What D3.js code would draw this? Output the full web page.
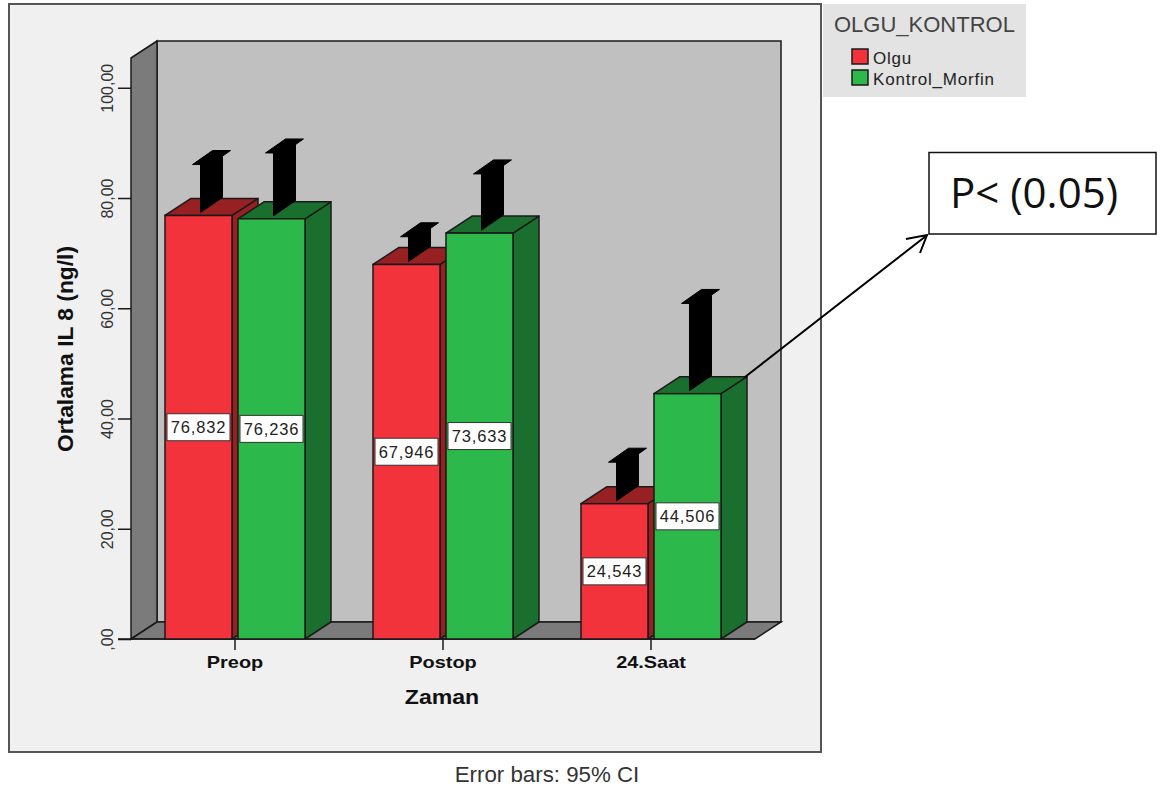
<!DOCTYPE html>
<html>
<head>
<meta charset="utf-8">
<script src="https://cdn.jsdelivr.net/npm/d3@7"></script>
<style>
  html, body { margin: 0; padding: 0; background: #fff; }
  svg { display: block; }
  text { font-family: "Liberation Sans", Arial, sans-serif; }
</style>
</head>
<body>
<div id="chart"></div>
<script>
const categories = ["Preop", "Postop", "24.Saat"];
const seriesNames = ["Olgu", "Kontrol_Morfin"];
const olguMeans = [76.832, 67.946, 24.543];
const kontrolMeans = [76.236, 73.633, 44.506];
// upper end of the 95% CI, the lower part is hidden inside the bars
const olguUpper = [85.8, 72.7, 31.8];
const kontrolUpper = [87.9, 84.1, 60.6];
const yTicks = [0, 20, 40, 60, 80, 100];

const colors = {
  Olgu: { front: "#f2333b", top: "#962022", side: "#962022" },
  Kontrol_Morfin: { front: "#2db84b", top: "#1b6f2e", side: "#1b6f2e" }
};
const line = "#1a1a1a";
const wall = "#c0c0c0";
const sideWall = "#7b7b7b";

const depth = { x: 26, y: -17 };

const svg = d3.select("#chart")
  .append("svg")
  .attr("width", 1163)
  .attr("height", 792);

// Chart panel
svg.append("rect")
  .attr("x", 9).attr("y", 4)
  .attr("width", 812).attr("height", 748)
  .attr("fill", "#f0f0f0")
  .attr("stroke", "#555")
  .attr("stroke-width", 2);

// Scales
const xScale = d3.scaleBand()
  .domain(categories)
  .range([131, 755]);

const groupScale = d3.scaleBand()
  .domain(seriesNames)
  .range([34, 174])
  .paddingInner(0.082);

const yScale = d3.scaleLinear()
  .domain([0, 105.4])
  .range([639, 58]);

const poly = pts => pts.map(p => p.join(",")).join(" ");

const [x0, x1] = xScale.range();
const yBase = yScale(0);
const yTop = yScale.range()[1];

// Back wall, left wall, floor
svg.append("polygon")
  .attr("points", poly([[x0 + depth.x, yTop + depth.y], [x1 + depth.x, yTop + depth.y], [x1 + depth.x, yBase + depth.y], [x0 + depth.x, yBase + depth.y]]))
  .attr("fill", wall).attr("stroke", line).attr("stroke-width", 1.5);
svg.append("polygon")
  .attr("points", poly([[x0, yTop], [x0 + depth.x, yTop + depth.y], [x0 + depth.x, yBase + depth.y], [x0, yBase]]))
  .attr("fill", sideWall).attr("stroke", line).attr("stroke-width", 1.5);
svg.append("polygon")
  .attr("points", poly([[x0, yBase], [x0 + depth.x, yBase + depth.y], [x1 + depth.x, yBase + depth.y], [x1, yBase]]))
  .attr("fill", sideWall).attr("stroke", line).attr("stroke-width", 1.5);

// Axes
const yAxis = d3.axisLeft(yScale)
  .tickValues(yTicks)
  .tickSize(13)
  .tickFormat(d => d === 0 ? ",00" : d + ",00");

const yAxisDrawn = svg.append("g")
  .attr("transform", "translate(" + x0 + ",0)")
  .call(yAxis);
yAxisDrawn.select(".domain").remove();
yAxisDrawn.selectAll("line").attr("stroke", line).attr("stroke-width", 1.5);
yAxisDrawn.selectAll("text")
  .attr("transform", "translate(-18,0) rotate(-90)")
  .attr("x", 0).attr("y", 0).attr("dy", 0)
  .attr("text-anchor", "middle")
  .attr("fill", "#333")
  .style("font-size", "16px")
  .style("font-family", "'Liberation Sans', Arial, sans-serif");

const xAxis = d3.axisBottom(xScale)
  .tickSize(11)
  .tickPadding(6);

const xAxisDrawn = svg.append("g")
  .attr("transform", "translate(0," + yBase + ")")
  .call(xAxis);
xAxisDrawn.select(".domain")
  .attr("d", "M118,0H" + x1)
  .attr("stroke", line).attr("stroke-width", 1.5);
xAxisDrawn.selectAll("line").attr("stroke", line).attr("stroke-width", 1.5);
xAxisDrawn.selectAll("text")
  .attr("transform", "scale(1.17,1)")
  .attr("fill", "#111")
  .style("font-size", "17px")
  .style("font-weight", "bold")
  .style("font-family", "'Liberation Sans', Arial, sans-serif");

// Bars
const barData = [];
categories.forEach((c, i) => {
  barData.push({ cat: c, series: seriesNames[0], value: olguMeans[i], upper: olguUpper[i] });
  barData.push({ cat: c, series: seriesNames[1], value: kontrolMeans[i], upper: kontrolUpper[i] });
});

const bw = groupScale.bandwidth();

const bars = svg.append("g")
  .selectAll("g")
  .data(barData)
  .enter()
  .append("g");

// side face
bars.append("polygon")
  .attr("points", d => {
    const x = xScale(d.cat) + groupScale(d.series) + bw;
    const y = yScale(d.value);
    return poly([[x, y], [x + depth.x, y + depth.y], [x + depth.x, yBase + depth.y], [x, yBase]]);
  })
  .attr("fill", d => colors[d.series].side)
  .attr("stroke", line).attr("stroke-width", 1.5).attr("stroke-linejoin", "round");

// top face
bars.append("polygon")
  .attr("points", d => {
    const x = xScale(d.cat) + groupScale(d.series);
    const y = yScale(d.value);
    return poly([[x, y], [x + depth.x, y + depth.y], [x + bw + depth.x, y + depth.y], [x + bw, y]]);
  })
  .attr("fill", d => colors[d.series].top)
  .attr("stroke", line).attr("stroke-width", 1.5).attr("stroke-linejoin", "round");

// error bar stem, a flat sheet running along the depth direction
bars.append("polygon")
  .attr("points", d => {
    const cx = xScale(d.cat) + groupScale(d.series) + bw / 2 + depth.x / 2;
    const yc = yScale(d.upper) + depth.y / 2;
    const ym = yScale(d.value);
    return poly([[cx - 11, yc + 7], [cx + 11, yc - 1], [cx + 11, ym - 18], [cx - 11, ym - 3]]);
  })
  .attr("fill", "#000").attr("stroke", "#000");

// error bar cap
bars.append("polygon")
  .attr("points", d => {
    const cx = xScale(d.cat) + groupScale(d.series) + bw / 2 + depth.x / 2;
    const yc = yScale(d.upper) + depth.y / 2;
    return poly([[cx - 19, yc + 7], [cx + 1, yc - 7], [cx + 19, yc - 7], [cx - 1, yc + 7]]);
  })
  .attr("fill", "#000").attr("stroke", "#000");

// front face
bars.append("rect")
  .attr("x", d => xScale(d.cat) + groupScale(d.series))
  .attr("y", d => yScale(d.value))
  .attr("width", bw)
  .attr("height", d => yBase - yScale(d.value))
  .attr("fill", d => colors[d.series].front)
  .attr("stroke", line).attr("stroke-width", 1.5);

// value labels
bars.append("rect")
  .attr("x", d => xScale(d.cat) + groupScale(d.series) + bw / 2 - 31.5)
  .attr("y", d => yScale(d.value / 2) - 13.5)
  .attr("width", 63)
  .attr("height", 27)
  .attr("fill", "#fff")
  .attr("stroke", "#333");

bars.append("text")
  .attr("x", d => xScale(d.cat) + groupScale(d.series) + bw / 2)
  .attr("y", d => yScale(d.value / 2) + 6)
  .attr("text-anchor", "middle")
  .attr("fill", "#222")
  .style("font-size", "16.5px")
  .style("letter-spacing", "0.8px")
  .text(d => d.value.toFixed(3).replace(".", ","));

// Axis titles
svg.append("text")
  .attr("transform", "translate(73,349) rotate(-90)")
  .attr("text-anchor", "middle")
  .attr("fill", "#111")
  .style("font-size", "22.8px")
  .style("font-weight", "bold")
  .text("Ortalama IL 8 (ng/l)");

svg.append("text")
  .attr("transform", "translate(442,704) scale(1.1,1)")
  .attr("text-anchor", "middle")
  .attr("fill", "#111")
  .style("font-size", "21px")
  .style("font-weight", "bold")
  .text("Zaman");

svg.append("text")
  .attr("x", 547)
  .attr("y", 782)
  .attr("text-anchor", "middle")
  .attr("fill", "#333")
  .style("font-size", "22.3px")
  .text("Error bars: 95% CI");

// Legend
svg.append("rect")
  .attr("x", 823).attr("y", 4)
  .attr("width", 203).attr("height", 93)
  .attr("fill", "#e3e3e3");

svg.append("text")
  .attr("x", 834).attr("y", 32)
  .attr("fill", "#444")
  .style("font-size", "22px")
  .text("OLGU_KONTROL");

const legend = svg.append("g")
  .selectAll("g")
  .data(seriesNames)
  .enter()
  .append("g")
  .attr("transform", (d, i) => "translate(852," + (49 + i * 21) + ")");

legend.append("rect")
  .attr("width", 16).attr("height", 15)
  .attr("fill", d => colors[d].front)
  .attr("stroke", line).attr("stroke-width", 1.5);

legend.append("text")
  .attr("x", 21).attr("y", 15)
  .attr("fill", "#222")
  .style("font-size", "17px")
  .style("letter-spacing", "0.8px")
  .text(d => d);

// P value note with its arrow
svg.append("rect")
  .attr("x", 929).attr("y", 152.5)
  .attr("width", 227).attr("height", 81.5)
  .attr("fill", "#fff")
  .attr("stroke", "#111")
  .attr("stroke-width", 1.5);

svg.append("text")
  .attr("x", 950).attr("y", 208)
  .attr("fill", "#111")
  .style("font-family", "'Open Sans', sans-serif")
  .style("font-size", "42px")
  .text("P< (0.05)");

svg.append("path")
  .attr("d", "M745,377L926,236M906,239L927,235L920,253")
  .attr("fill", "none")
  .attr("stroke", "#000")
  .attr("stroke-width", 2);
</script>
</body>
</html>
